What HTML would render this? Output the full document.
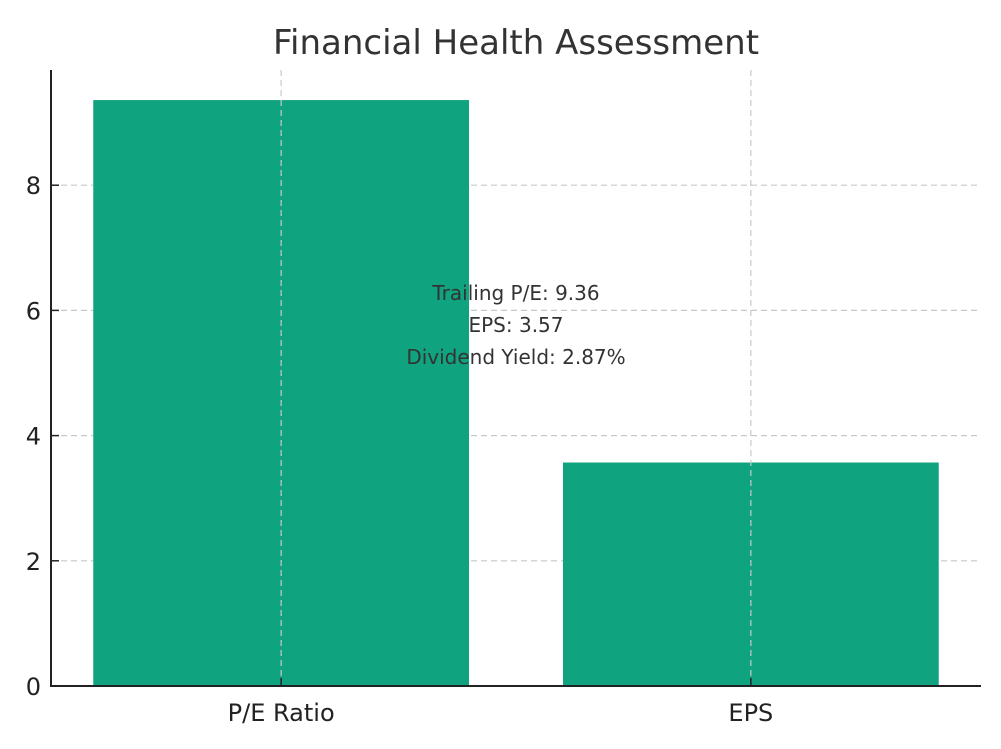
<!DOCTYPE html>
<html><head><meta charset="utf-8"><style>body{margin:0;background:#fff}svg{display:block}text{font-family:"DejaVu Sans","Liberation Sans",sans-serif}</style></head>
<body>
<svg id="c" width="1001" height="749" xmlns="http://www.w3.org/2000/svg"></svg>
<script>
const categories=["P/E Ratio","EPS"];
const values=[9.36,3.57];
const yTicks=[0,2,4,6,8];
const annotationLines=["Trailing P/E: 9.36","EPS: 3.57","Dividend Yield: 2.87%"];
const NS="http://www.w3.org/2000/svg";
const svg=document.getElementById('c');
const L=51,R=981,B=686,T=70;
const y=v=>B-v*62.6;
const x=i=>L+(i+0.49)/1.98*(R-L);
const bw=0.8/1.98*(R-L);
function mk(tag,a,txt){const e=document.createElementNS(NS,tag);for(const k in a)e.setAttribute(k,a[k]);if(txt!=null)e.textContent=txt;svg.appendChild(e);return e;}
yTicks.forEach(t=>{if(t>0){const g=mk('line',{x1:L,x2:R,y1:y(t),y2:y(t),stroke:'#c8c8c8','stroke-dasharray':'6,4','stroke-width':1.2});

}});
values.forEach((v,i)=>{const r=mk('rect',{x:x(i)-bw/2,y:y(v),width:bw,height:B-y(v),fill:'#10a37f'});

});
categories.forEach((c,i)=>{const g=mk('line',{x1:x(i),x2:x(i),y1:T,y2:B,stroke:'#c8c8c8','stroke-dasharray':'6,4','stroke-width':1.2});


const tk=mk('line',{x1:x(i),x2:x(i),y1:B,y2:B-8,stroke:'#222','stroke-width':1.5});


const t=mk('text',{x:x(i),y:B+35,'text-anchor':'middle','font-size':24,fill:'#222'},c);

});
yTicks.forEach(v=>{const tk=mk('line',{x1:L,x2:L+8,y1:y(v),y2:y(v),stroke:'#222','stroke-width':1.5});


const t=mk('text',{x:L-10,y:y(v)+9,'text-anchor':'end','font-size':24,fill:'#222'},v);

});
const ax=mk('path',{d:`M${L},${T}V${B}H${R}`,fill:'none',stroke:'#222','stroke-width':2});


annotationLines.forEach((s,i)=>{const t=mk('text',{x:516,y:300+i*32,'text-anchor':'middle','font-size':20,fill:'#333'},s);

});
const ti=mk('text',{x:516,y:54,'text-anchor':'middle','font-size':34,fill:'#333'},'Financial Health Assessment');


</script>
</body></html>
